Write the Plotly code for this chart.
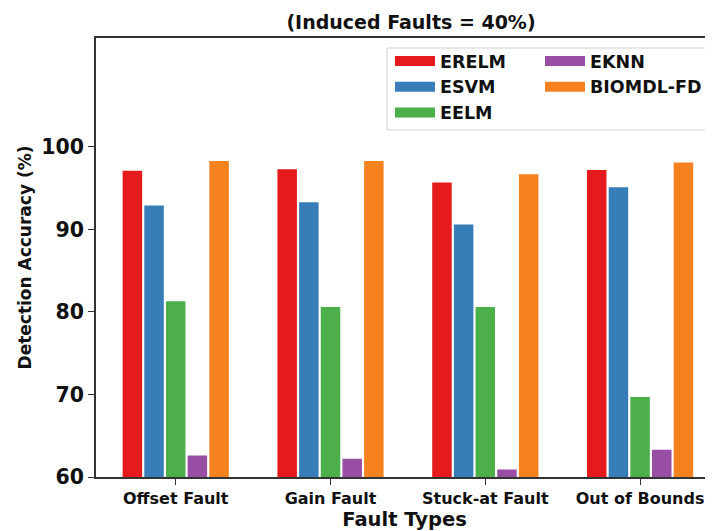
import plotly.graph_objects as go

categories = ["Offset Fault", "Gain Fault", "Stuck-at Fault", "Out of Bounds"]
series_names = ["ERELM", "ESVM", "EELM", "EKNN", "BIOMDL-FD"]
erelm = [97.1, 97.3, 95.7, 97.2]
esvm = [92.9, 93.3, 90.6, 95.1]
eelm = [81.3, 80.6, 80.6, 69.7]
eknn = [62.6, 62.2, 60.9, 63.3]
biomdl = [98.3, 98.3, 96.7, 98.1]
y_ticks = [60, 70, 80, 90, 100]

values = [erelm, esvm, eelm, eknn, biomdl]
colors = ["#e41a1c", "#377eb8", "#4daf4a", "#984ea3", "#f6821f"]
legend_of = ["legend", "legend", "legend", "legend2", "legend2"]

FONT = "DejaVu Sans"
TXT = "#111111"
AX = "#333333"

fig = go.Figure()
for name, vals, col in zip(series_names, values, colors):
    fig.add_trace(go.Bar(x=categories, y=vals, name=name, marker=dict(color=col, line=dict(width=0)),
                         showlegend=False))
# legend swatches (no data marks)
for name, col, lg in zip(series_names, colors, legend_of):
    fig.add_trace(go.Scatter(x=[None], y=[None], mode="lines", name=name,
                             line=dict(color=col, width=10), legend=lg, legendgroup=name,
                             showlegend=True))

# page body has an 8px margin; lay out in screen pixels minus that offset
OFF = 8
W, H = 713 - OFF, 531 - OFF
L, R, T = 96 - OFF, 0, 38 - OFF
B = H - (477 - OFF)
pw, ph = W - L - R, H - T - B

def px_x(x):
    return (x - OFF - L) / pw

def px_y(y):
    return 1 - (y - OFF - T) / ph

legend_font = dict(family=FONT, size=17.5, color=TXT, weight="bold")

fig.update_layout(
    width=W, height=H,
    margin=dict(l=L, r=R, t=T, b=B, pad=0, autoexpand=False),
    paper_bgcolor="white", plot_bgcolor="white",
    barmode="group", bargap=0.30, bargroupgap=0.10,
    title=dict(text="(Induced Faults = 40%)", x=(411 - OFF) / W, xref="container", xanchor="center",
               y=1 - (22 - OFF) / H, yref="container", yanchor="middle",
               font=dict(family=FONT, size=19, color=TXT, weight="bold")),
    legend=dict(x=px_x(390), y=px_y(43), xanchor="left", yanchor="top", bgcolor="rgba(0,0,0,0)",
                borderwidth=0, font=legend_font, tracegroupgap=0, itemwidth=40),
    legend2=dict(x=px_x(540), y=px_y(43), xanchor="left", yanchor="top", bgcolor="rgba(0,0,0,0)",
                 borderwidth=0, font=legend_font, tracegroupgap=0, itemwidth=40),
    xaxis=dict(type="category", range=[-0.515, 3.471], showline=True, linecolor=AX, linewidth=1.5,
               mirror=True, ticks="outside", ticklen=6, tickcolor=AX, tickwidth=1.2,
               tickfont=dict(family=FONT, size=16, color=TXT, weight="bold"),
               showgrid=False, zeroline=False, automargin=False,
               title=dict(text="Fault Types", standoff=12,
                          font=dict(family=FONT, size=19.5, color=TXT, weight="bold"))),
    yaxis=dict(range=[60, 113.2], tickvals=y_ticks, showline=True, linecolor=AX, linewidth=1.5,
               ticks="outside", ticklen=6, tickcolor=AX, tickwidth=1.2,
               tickfont=dict(family=FONT, size=20.5, color=TXT, weight="bold"),
               showgrid=False, zeroline=False, automargin=False,
               title=dict(text="Detection Accuracy (%)", standoff=5,
                          font=dict(family=FONT, size=17, color=TXT, weight="bold"))),
    shapes=[dict(type="rect", xref="paper", yref="paper", x0=px_x(387), x1=px_x(710),
                 y0=px_y(130), y1=px_y(48), line=dict(color="#d0d0d0", width=1),
                 fillcolor="rgba(255,255,255,0.8)", layer="below")],
)

fig.write_html("out.html")
